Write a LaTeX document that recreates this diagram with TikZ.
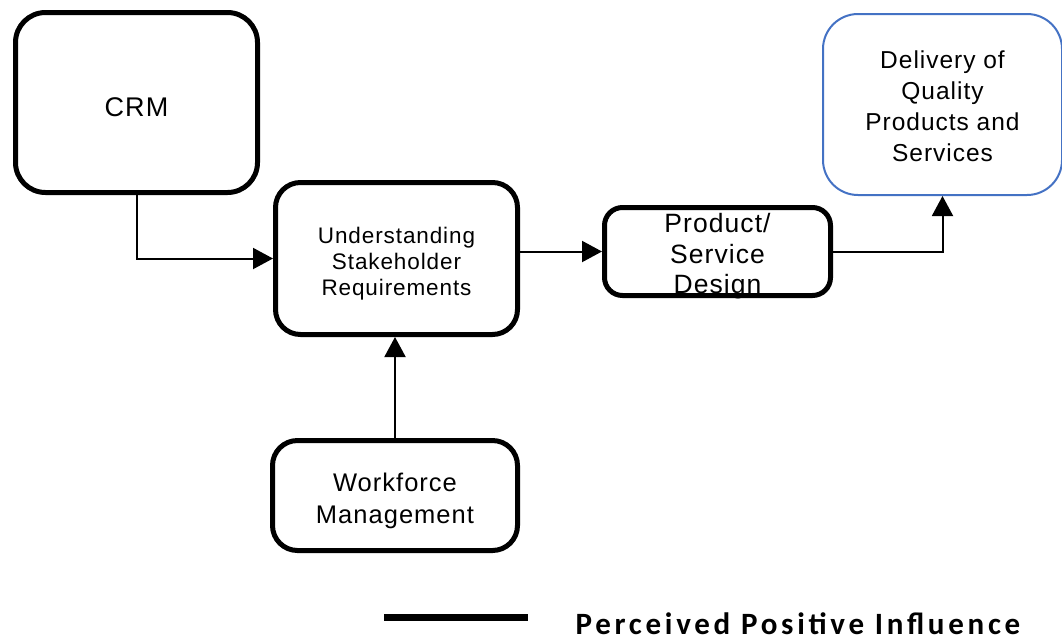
\documentclass[tikz,border=0pt]{standalone}
\usepackage{fontspec}
\setmainfont{Liberation Sans}[LetterSpace=4]
\newfontfamily\legendfont{Carlito}[LetterSpace=12]
\usepackage{tikz}
\usetikzlibrary{arrows.meta}
\usepackage{xcolor}
\definecolor{boxblue}{RGB}{68,114,196}

\tikzset{
	blk/.style={draw, line width=5pt, rounded corners=25pt, inner sep=0pt},
	txt/.style={align=center, inner sep=0pt, yshift=-5pt},
	conn/.style={line width=2pt, -{Triangle[length=20pt, width=21pt]}},
}

\begin{document}
\begin{tikzpicture}[x=1pt, y=-1pt]
		
		\useasboundingbox (0,0) rectangle (1062,641);
		
		\node[blk, rounded corners=30pt, minimum width=242pt, minimum height=180pt,
		label={[txt, font=\fontsize{27}{30}\selectfont]center:{CRM}}] (crm) at (136.5,102.5) {};
		
		\node[blk, minimum width=242pt, minimum height=152pt,
		label={[txt, font=\fontsize{22.5}{26}\selectfont]center:{Understanding\\Stakeholder\\Requirements}}] (und) at (396.5,258.5) {};
		
		\node[blk, rounded corners=18pt, minimum width=226pt, minimum height=88pt,
		label={[txt, font=\fontsize{26.5}{30.5}\selectfont]center:{Product/\\Service\\Design}}] (prod) at (717.5,251.5) {};
		
		\node[blk, minimum width=245pt, minimum height=110pt,
		label={[txt, font=\fontsize{25.5}{32}\selectfont]center:{Workforce\\Management}}] (wf) at (395,495.5) {};
		
		\node[blk, draw=boxblue, line width=2pt, rounded corners=35pt, minimum width=239pt, minimum height=181pt,
		label={[txt, yshift=3pt, font=\fontsize{24.5}{31}\selectfont]center:{Delivery of\\Quality\\Products and\\Services}}] (del) at (942.5,104.5) {};
		
		
		\draw[conn] (crm) |- (und);
		\draw[conn] (und.east |- prod.west) -- (prod.west);
		\draw[conn] (prod) -| (del);
		\draw[conn] (wf.north) -- (wf.north |- und.south);
		
		% legend
		\coordinate (legA) at (384,617);
		\coordinate (legB) at (528,617);
		\draw[line width=7pt] (legA) -- (legB);
		\node[font=\legendfont\bfseries\fontsize{31}{36}\selectfont, inner sep=0pt] (legtxt) at (798,624) {Perceived Positive Influence};
	
	\end{tikzpicture}
\end{document}
